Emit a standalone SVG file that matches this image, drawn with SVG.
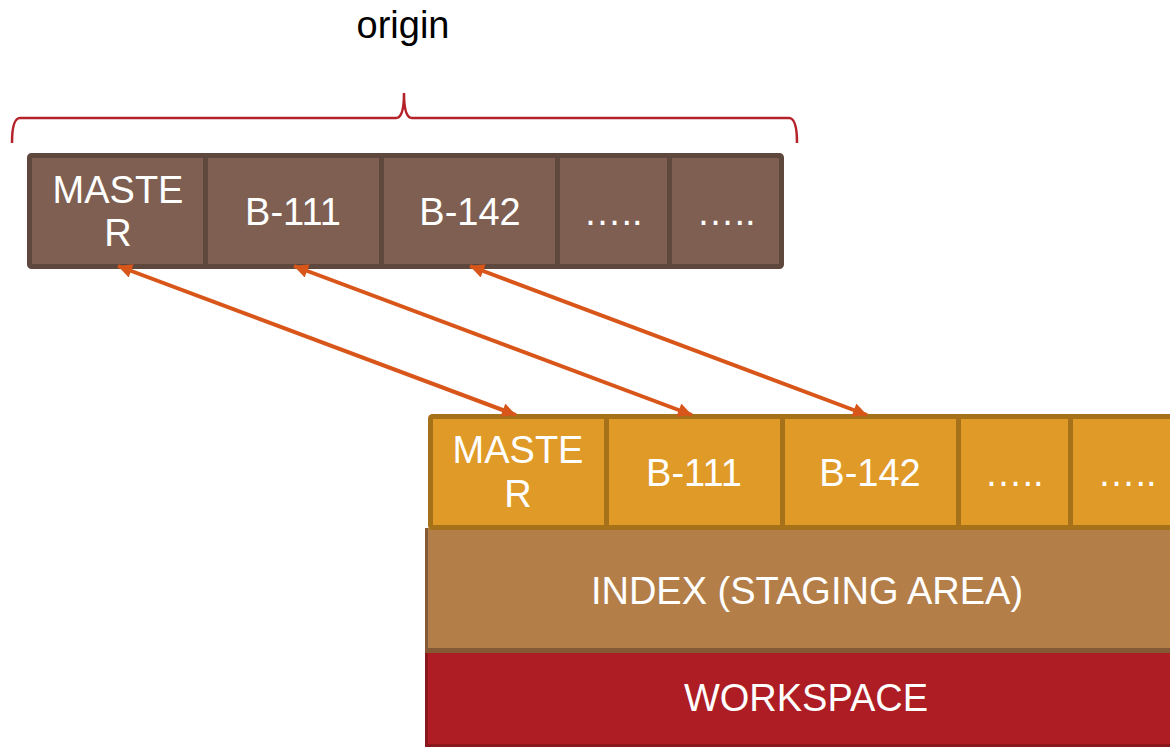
<svg xmlns="http://www.w3.org/2000/svg" width="1170" height="747" viewBox="0 0 1170 747">
  <style>
    .lbl { font-family: "Liberation Sans", Arial, sans-serif; font-size: 38px; fill: #ffffff; text-anchor: middle; }
    .remote { fill: #7e5f52; stroke: #5e473c; stroke-width: 5; }
    .local { fill: #e09a27; stroke: #a57219; stroke-width: 5; }
    .link { stroke: #d9561a; stroke-width: 4; fill: none; marker-start: url(#head); marker-end: url(#head); }
  </style>
  <defs>
    <marker id="head" viewBox="0 0 10 10" refX="10" refY="5" markerUnits="userSpaceOnUse" markerWidth="15" markerHeight="14" orient="auto-start-reverse">
      <path d="M0,0 L10,5 L0,10 z" fill="#d9561a"/>
    </marker>
  </defs>
  <rect width="1170" height="747" fill="#ffffff"/>

  <!-- remote label and brace -->
  <g id="origin-label">
    <text x="403" y="38" font-family="Liberation Sans, Arial, sans-serif" font-size="38" fill="#000000" text-anchor="middle">origin</text>
    <path d="M12,143 Q12,118 20,118 L396,118 Q404,118 404,93 Q404,118 412,118 L789,118 Q797,118 797,143" fill="none" stroke="#b4222a" stroke-width="2.5"/>
  </g>

  <!-- remote branches -->
  <g id="remote-master">
    <rect class="remote" x="29.5" y="155.5" width="176" height="111" rx="2"/>
    <text class="lbl" x="118" y="203">MASTE</text>
    <text class="lbl" x="118" y="246">R</text>
  </g>
  <g id="remote-b111">
    <rect class="remote" x="205.5" y="155.5" width="176" height="111"/>
    <text class="lbl" x="293" y="225">B-111</text>
  </g>
  <g id="remote-b142">
    <rect class="remote" x="381.5" y="155.5" width="176" height="111"/>
    <text class="lbl" x="470" y="225">B-142</text>
  </g>
  <g id="remote-more1">
    <rect class="remote" x="557.5" y="155.5" width="112" height="111"/>
    <text class="lbl" x="613" y="225">…..</text>
  </g>
  <g id="remote-more2">
    <rect class="remote" x="669.5" y="155.5" width="112" height="111" rx="2"/>
    <text class="lbl" x="726" y="225">…..</text>
  </g>

  <!-- workspace -->
  <g id="workspace">
    <rect x="425" y="652" width="745" height="95" fill="#8a171b"/>
    <rect x="428" y="652" width="742" height="92" fill="#ad1d23"/>
    <text class="lbl" x="806" y="711">WORKSPACE</text>
  </g>

  <!-- index -->
  <g id="index">
    <rect x="425" y="528" width="745" height="125" fill="#835a35"/>
    <rect x="428" y="528" width="742" height="120" fill="#b37e48"/>
    <text class="lbl" x="807" y="604">INDEX (STAGING AREA)</text>
  </g>

  <!-- local branches -->
  <g id="local-master">
    <rect class="local" x="430.5" y="416.5" width="176" height="111" rx="2"/>
    <text class="lbl" x="518" y="463">MASTE</text>
    <text class="lbl" x="518" y="507">R</text>
  </g>
  <g id="local-b111">
    <rect class="local" x="606.5" y="416.5" width="176" height="111"/>
    <text class="lbl" x="694" y="486">B-111</text>
  </g>
  <g id="local-b142">
    <rect class="local" x="782.5" y="416.5" width="176" height="111"/>
    <text class="lbl" x="870" y="486">B-142</text>
  </g>
  <g id="local-more1">
    <rect class="local" x="958.5" y="416.5" width="112" height="111"/>
    <text class="lbl" x="1014" y="486">…..</text>
  </g>
  <g id="local-more2">
    <rect class="local" x="1070.5" y="416.5" width="112" height="111"/>
    <text class="lbl" x="1127" y="486">…..</text>
  </g>

  <!-- sync links between remote and local branches -->
  <g id="connectors">
    <line class="link" x1="118" y1="266" x2="516" y2="415"/>
    <line class="link" x1="294" y1="266" x2="692" y2="415"/>
    <line class="link" x1="470" y1="266" x2="867" y2="415"/>
  </g>
</svg>
